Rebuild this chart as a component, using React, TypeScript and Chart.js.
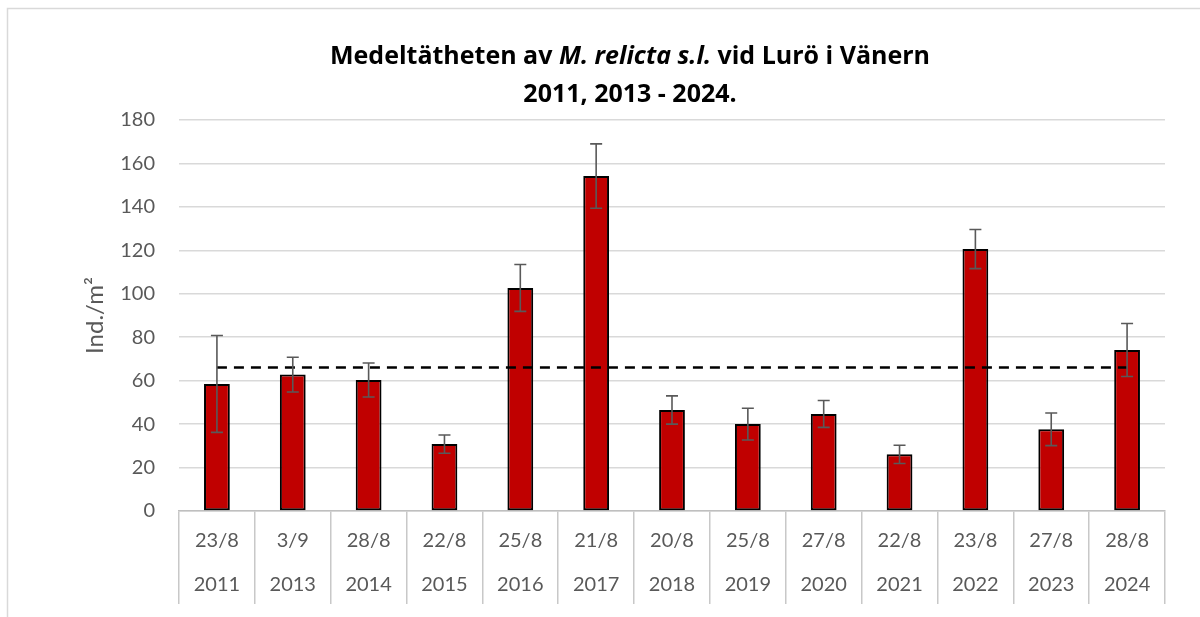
import React, { useEffect, useRef } from "react";
import { Chart, registerables } from "chart.js";

Chart.register(...registerables);

const DATES = ["23/8", "3/9", "28/8", "22/8", "25/8", "21/8", "20/8", "25/8", "27/8", "22/8", "23/8", "27/8", "28/8"];
const YEARS = ["2011", "2013", "2014", "2015", "2016", "2017", "2018", "2019", "2020", "2021", "2022", "2023", "2024"];
const MEANS = [58.5, 62.8, 60.3, 30.8, 102.7, 154.2, 46.5, 40.0, 44.7, 26.1, 120.6, 37.6, 74.1];
const ERRORS = [22.3, 8.0, 7.8, 4.2, 10.8, 14.8, 6.5, 7.3, 6.2, 4.2, 9.0, 7.5, 12.2];
const AVERAGE = [66.1, 66.1, 66.1, 66.1, 66.1, 66.1, 66.1, 66.1, 66.1, 66.1, 66.1, 66.1, 66.1];
const Y_TITLE = "Ind./m\u00B2";
const TITLE_LINE1 = [
  { text: "Medeltätheten av ", italic: false },
  { text: "M. relicta s.l.", italic: true },
  { text: " vid Lurö i Vänern", italic: false },
];
const TITLE_LINE2 = "2011, 2013 - 2024.";

const FONT = "Lato";
const TITLE_FONT = "'Open Sans'";
const GRAY = "#595959";

const framePlugin = {
  id: "frame",
  beforeDraw(chart: any) {
    const ctx = chart.ctx;
    ctx.save();
    ctx.fillStyle = "#ffffff";
    ctx.fillRect(0, 0, chart.width, chart.height);
    ctx.strokeStyle = "#D9D9D9";
    ctx.lineWidth = 1.5;
    ctx.strokeRect(7.5, 8.5, chart.width + 20, chart.height + 20);
    ctx.restore();
  },
};

const titlePlugin = {
  id: "richTitle",
  afterDraw(chart: any) {
    const ctx = chart.ctx;
    const cx = 630;
    const size = 25;
    ctx.save();
    ctx.fillStyle = "#000000";
    ctx.textBaseline = "middle";
    ctx.textAlign = "left";
    const fontFor = (italic: boolean) => `${italic ? "italic " : ""}bold ${size}px ${TITLE_FONT}`;
    let total = 0;
    TITLE_LINE1.forEach((seg) => {
      ctx.font = fontFor(seg.italic);
      total += ctx.measureText(seg.text).width;
    });
    let x = cx - total / 2;
    TITLE_LINE1.forEach((seg) => {
      ctx.font = fontFor(seg.italic);
      ctx.fillText(seg.text, x, 57);
      x += ctx.measureText(seg.text).width;
    });
    ctx.font = fontFor(false);
    ctx.textAlign = "center";
    ctx.fillText(TITLE_LINE2, cx, 95);
    ctx.restore();
  },
};

const errorBarPlugin = {
  id: "errorBars",
  afterDatasetsDraw(chart: any) {
    const ctx = chart.ctx;
    const meta = chart.getDatasetMeta(0);
    const y = chart.scales.y;
    ctx.save();
    ctx.strokeStyle = GRAY;
    ctx.lineWidth = 1.6;
    meta.data.forEach((bar: any, i: number) => {
      const x = bar.x;
      const hi = y.getPixelForValue(MEANS[i] + ERRORS[i]);
      const lo = y.getPixelForValue(MEANS[i] - ERRORS[i]);
      const cap = 6;
      ctx.beginPath();
      ctx.moveTo(x, hi);
      ctx.lineTo(x, lo);
      ctx.moveTo(x - cap, hi);
      ctx.lineTo(x + cap, hi);
      ctx.moveTo(x - cap, lo);
      ctx.lineTo(x + cap, lo);
      ctx.stroke();
    });
    ctx.restore();
  },
};

export default function App() {
  const ref = useRef<HTMLCanvasElement | null>(null);
  useEffect(() => {
    if (!ref.current) return;
    const labels = DATES.map((d, i) => [d, YEARS[i]]);
    const chart = new Chart(ref.current, {
      type: "bar",
      data: {
        labels,
        datasets: [
          {
            type: "bar",
            data: MEANS,
            backgroundColor: "#C00000",
            borderColor: "#000000",
            borderWidth: 2,
            borderSkipped: false,
            categoryPercentage: 1,
            barPercentage: 0.34,
            order: 2,
          } as any,
          {
            type: "line",
            data: AVERAGE,
            borderColor: "#000000",
            borderWidth: 2.5,
            borderDash: [10, 7],
            pointRadius: 0,
            fill: false,
            order: 1,
          } as any,
        ],
      },
      options: {
        animation: false,
        responsive: false,
        devicePixelRatio: 1,
        layout: { padding: { left: 0, top: 120, right: 35, bottom: 0 } },
        plugins: {
          legend: { display: false },
          title: { display: false },
          tooltip: { enabled: false },
        },
        scales: {
          x: {
            offset: true,
            grid: {
              offset: true,
              drawOnChartArea: false,
              drawTicks: true,
              tickLength: 93,
              color: "#C8C8C8",
              lineWidth: 1.5,
            },
            border: { display: true, color: "#BFBFBF", width: 1.5 },
            ticks: {
              autoSkip: false,
              maxRotation: 0,
              minRotation: 0,
              padding: -85,
              color: GRAY,
              font: { family: FONT, size: 20, lineHeight: 2.2 },
            },
            afterFit(scale: any) {
              scale.height = 617 - 511;
            },
          },
          y: {
            min: 0,
            max: 180,
            ticks: {
              stepSize: 20,
              padding: 24,
              color: GRAY,
              font: { family: FONT, size: 20 },
            },
            grid: { color: "#D9D9D9", lineWidth: 1.5, drawTicks: false },
            border: { display: false },
            title: {
              display: true,
              text: Y_TITLE,
              color: GRAY,
              font: { family: FONT, size: 24 },
              padding: { top: 81, bottom: 0 },
            },
            afterFit(scale: any) {
              scale.width = 179;
            },
          },
        },
      } as any,
      plugins: [framePlugin, titlePlugin, errorBarPlugin],
    });
    return () => chart.destroy();
  }, []);
  return (
    <div style={{ position: "fixed", left: 0, top: 0, width: 1200, height: 617, background: "#fff" }}>
      <canvas ref={ref} width={1200} height={617} style={{ width: 1200, height: 617, display: "block" }} />
    </div>
  );
}
